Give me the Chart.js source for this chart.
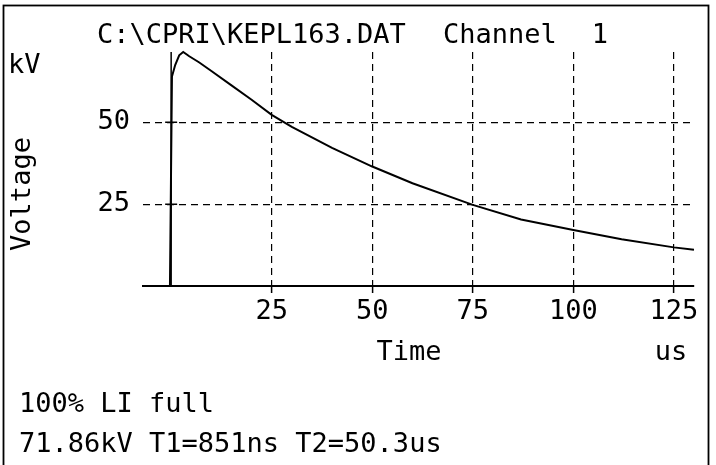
<!DOCTYPE html>
<html>
<head>
<meta charset="utf-8">
<script src="https://cdn.jsdelivr.net/npm/chart.js@4"></script>
<style>
  body { margin: 0; background: #fff; }
  canvas { display: block; }
</style>
</head>
<body>
<canvas id="pulse" width="716" height="465"></canvas>
<script>
// Valores (tiempo en us, tensión en kV)
const timeUs = [-7, -0.3, 0.2, 1.0, 2.0, 3.0, 4.5, 7, 10, 15, 20, 25, 30, 40, 50, 60, 75, 87, 100, 112, 125, 130];
const voltageKv = [0, 0, 64, 67.5, 70.5, 71.5, 70.2, 68.3, 65.7, 61.3, 56.9, 52.3, 48.6, 42.2, 36.5, 31.4, 24.8, 20.3, 17.1, 14.3, 11.8, 11.1];

const xTicks = [25, 50, 75, 100, 125];
const yTicks = [25, 50];

const titleFile = 'C:\\CPRI\\KEPL163.DAT';
const titleChannel = 'Channel';
const channelNo = '1';
const yUnit = 'kV';
const yName = 'Voltage';
const xName = 'Time';
const xUnit = 'us';
const infoLine1 = '100% LI full';
const infoLine2 = '71.86kV T1=851ns T2=50.3us';

const FONT_SIZE = 27;
const FONT = FONT_SIZE + 'px "DejaVu Sans Mono"';

// Textos, marco y eje vertical en t = 0
const decorPlugin = {
    id: 'decor',
    afterDraw(chart) {
        const ctx = chart.ctx;
        const x = chart.scales.x;
        const y = chart.scales.y;
        ctx.save();

        // eje vertical en t = 0 con marcas "+"
        const x0 = x.getPixelForValue(0);
        ctx.strokeStyle = '#000';
        ctx.lineWidth = 1.5;
        ctx.beginPath();
        ctx.moveTo(x0, y.bottom);
        ctx.lineTo(x0, y.top);
        yTicks.forEach(v => {
            const py = y.getPixelForValue(v);
            ctx.moveTo(x0 - 6, py);
            ctx.lineTo(x0 + 6, py);
        });
        ctx.stroke();

        // marco exterior
        ctx.lineWidth = 1.8;
        ctx.strokeRect(3.5, 5.5, 705, 470);

        ctx.fillStyle = '#000';
        ctx.font = FONT;
        ctx.textBaseline = 'alphabetic';
        ctx.textAlign = 'left';
        ctx.fillText(titleFile, 97, 43);
        ctx.fillText(titleChannel, 443, 43);
        ctx.fillText(yUnit, 8, 73);
        ctx.fillText(infoLine1, 19, 412);
        ctx.fillText(infoLine2, 19, 452);

        ctx.textAlign = 'center';
        ctx.fillText(channelNo, 600, 43);
        ctx.fillText(xName, 409, 360);
        ctx.fillText(xUnit, 671, 360);

        ctx.translate(30, 194);
        ctx.rotate(-Math.PI / 2);
        ctx.fillText(yName, 0, 0);
        ctx.restore();
    }
};

const ctxPulse = document.getElementById('pulse').getContext('2d');
const pulseChart = new Chart(ctxPulse, {
    type: 'line',
    data: {
        datasets: [{
            data: timeUs.map((t, i) => ({ x: t, y: voltageKv[i] })),
            borderColor: '#000',
            borderWidth: 2,
            pointRadius: 0,
            tension: 0,
            clip: false
        }]
    },
    options: {
        responsive: false,
        animation: false,
        devicePixelRatio: 1,
        layout: { padding: { left: 0, right: 22, top: 52, bottom: 0 } },
        plugins: {
            legend: { display: false },
            tooltip: { enabled: false }
        },
        scales: {
            x: {
                type: 'linear',
                min: -7,
                max: 130,
                afterBuildTicks: s => { s.ticks = xTicks.map(v => ({ value: v })); },
                afterFit: s => { s.height = 179; },
                ticks: {
                    color: '#000',
                    font: { family: 'DejaVu Sans Mono', size: FONT_SIZE },
                    padding: 3,
                    maxRotation: 0,
                    autoSkip: false,
                    callback: v => String(v)
                },
                grid: {
                    color: '#000',
                    lineWidth: 1.2,
                    tickLength: 7,
                    tickColor: '#000',
                    tickWidth: 1.5
                },
                border: { display: true, color: '#000', width: 2, dash: [7, 5] }
            },
            y: {
                type: 'linear',
                min: 0,
                max: 71.5,
                afterBuildTicks: s => { s.ticks = yTicks.map(v => ({ value: v })); },
                afterFit: s => { s.width = 143; },
                ticks: {
                    color: '#000',
                    font: { family: 'DejaVu Sans Mono', size: FONT_SIZE },
                    padding: 13,
                    callback: v => String(v)
                },
                grid: {
                    color: '#000',
                    lineWidth: 1.2,
                    drawTicks: false
                },
                border: { display: false, dash: [7, 5] }
            }
        }
    },
    plugins: [decorPlugin]
});
</script>
</body>
</html>
